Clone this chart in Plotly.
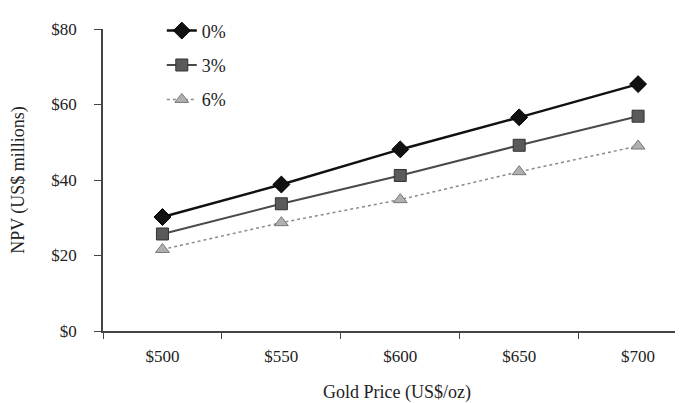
import plotly.graph_objects as go

gold_prices = ["$500", "$550", "$600", "$650", "$700"]
series_names = ["0%", "3%", "6%"]
npv_0 = [30.2, 38.8, 48.1, 56.6, 65.4]
npv_3 = [25.7, 33.7, 41.2, 49.2, 56.9]
npv_6 = [21.6, 28.7, 34.8, 42.2, 49.0]
y_ticks = [0, 20, 40, 60, 80]
y_tick_labels = ["$0", "$20", "$40", "$60", "$80"]

FONT = "Liberation Serif"
TXT = "#222222"

styles = [
    dict(line=dict(color="#111111", width=2.5),
         marker=dict(symbol="diamond", size=13, color="#111111",
                     line=dict(color="#000000", width=1))),
    dict(line=dict(color="#4a4a4a", width=2),
         marker=dict(symbol="square", size=12, color="#5a5a5a",
                     line=dict(color="#333333", width=1))),
    dict(line=dict(color="#8a8a8a", width=1.5, dash="dot"),
         marker=dict(symbol="triangle-up", size=12, color="#b0b0b0",
                     line=dict(color="#777777", width=1))),
]

fig = go.Figure()
for i, (name, vals) in enumerate(zip(series_names, [npv_0, npv_3, npv_6])):
    fig.add_trace(go.Scatter(
        x=gold_prices, y=vals, name=name, mode="lines+markers",
        legendgroup=name, **styles[i]))

fig.update_layout(
    width=683, height=403,
    margin=dict(l=95, r=0, t=21, b=80),
    plot_bgcolor="white", paper_bgcolor="white",
    font=dict(family=FONT, size=17, color=TXT),
    showlegend=True,
    legend=dict(x=0.10, y=1.055, xanchor="left", yanchor="top",
                bgcolor="rgba(0,0,0,0)", traceorder="grouped",
                tracegroupgap=8, font=dict(family=FONT, size=18, color=TXT)),
    xaxis=dict(
        type="category", range=[-0.5, 4.445],
        showline=True, linecolor="#444444", linewidth=1.5,
        ticks="outside", ticklen=6, tickcolor="#444444", tickwidth=1.2,
        tickson="boundaries", showgrid=False, zeroline=False,
        ticklabelstandoff=9,
        tickfont=dict(family=FONT, size=17, color=TXT),
        title=dict(text="Gold Price (US$/oz)", standoff=20,
                   font=dict(family=FONT, size=18, color=TXT)),
    ),
    yaxis=dict(
        range=[0, 80], tickmode="array", tickvals=y_ticks, ticktext=y_tick_labels,
        showline=True, linecolor="#444444", linewidth=1.5,
        ticks="outside", ticklen=7, tickcolor="#444444", tickwidth=1.2,
        showgrid=False, zeroline=False,
        ticklabelstandoff=14,
        tickfont=dict(family=FONT, size=17, color=TXT),
        title=dict(text="NPV (US$ millions)", standoff=22,
                   font=dict(family=FONT, size=18, color=TXT)),
    ),
)

fig.write_html("out.html")
